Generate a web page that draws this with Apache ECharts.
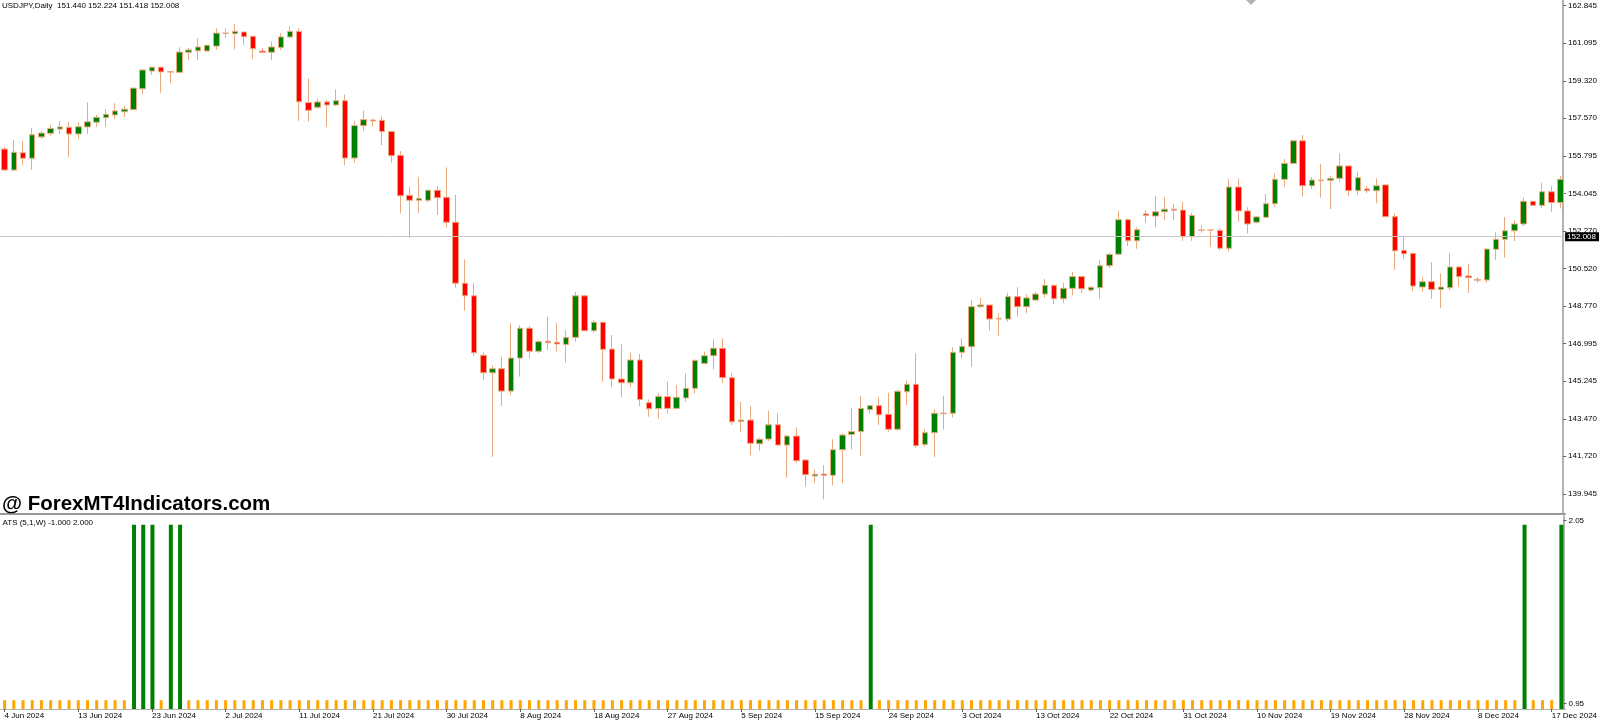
<!DOCTYPE html>
<html lang="en">
<head>
<meta charset="UTF-8">
<title>USDJPY Daily + ATS</title>
<script src="https://cdn.jsdelivr.net/npm/echarts@6.0.0/dist/echarts.min.js"></script>
<style>
  html, body { margin: 0; padding: 0; background: #fff; }
  #main { width: 1600px; height: 720px; }
</style>
</head>
<body>
<div id="main"></div>
<script type="text/javascript">
// USDJPY daily bars, 4 Jun 2024 .. 18 Dec 2024 (Sun-Fri sessions)
var opens = [
  156.12,155.14,155.95,155.69,156.69,156.86,157.06,157.14,156.83,157.16,
  157.38,157.59,157.72,157.87,157.97,158.95,159.78,159.96,159.75,159.72,
  160.66,160.73,160.72,160.95,161.55,161.53,161.61,161.41,160.72,160.66,
  160.88,161.38,161.64,158.30,158.08,158.33,158.19,158.39,155.70,157.22,
  157.48,157.47,156.95,155.83,153.95,153.72,153.72,154.19,153.86,152.69,
  149.83,149.24,146.45,145.63,145.82,144.77,146.32,147.72,146.64,147.11,
  147.06,146.96,147.29,149.24,147.60,148.00,146.74,145.34,145.16,146.23,
  144.23,143.95,144.51,143.96,144.45,144.90,146.07,146.43,146.78,145.40,
  143.35,143.41,142.30,142.52,143.19,142.24,142.66,141.54,140.79,140.88,
  140.82,142.02,142.73,142.87,143.90,144.09,143.68,142.98,144.74,145.09,
  142.27,142.82,143.71,143.73,146.59,146.85,148.73,148.81,148.18,148.15,
  149.20,148.73,149.04,149.32,149.73,149.10,149.59,150.14,149.51,149.62,
  150.65,151.19,152.81,151.82,153.08,152.98,153.18,153.30,153.26,152.01,
  152.33,152.33,152.31,151.47,154.34,153.22,152.69,152.92,153.56,154.70,
  155.45,156.51,154.40,154.67,154.66,154.75,155.33,154.17,154.25,154.17,
  154.44,152.95,151.37,151.23,149.65,149.90,149.54,149.62,150.59,150.17,
  150.01,149.98,151.42,151.89,152.29,152.61,153.67,153.48,154.12,153.61
];
var closes = [
  155.14,155.97,155.69,156.79,156.87,157.09,157.16,156.83,157.17,157.40,
  157.61,157.75,157.91,157.99,158.98,159.83,159.96,159.74,159.73,160.67,
  160.77,160.91,160.99,161.56,161.56,161.64,161.39,160.83,160.66,160.91,
  161.38,161.64,158.34,157.94,158.33,158.19,158.39,155.70,157.22,157.50,
  157.44,156.94,155.81,153.93,153.72,153.81,154.19,153.84,152.69,149.83,
  149.24,146.57,145.63,145.82,144.77,146.32,147.72,146.64,147.09,147.04,
  146.98,147.29,149.24,147.60,148.00,146.73,145.34,145.16,146.23,144.38,
  143.94,144.52,143.96,144.48,144.90,146.21,146.43,146.78,145.40,143.33,
  143.41,142.32,142.51,143.19,142.24,142.66,141.50,140.85,140.87,140.82,
  142.02,142.71,142.87,143.96,144.09,143.66,142.98,144.76,145.09,142.21,
  142.82,143.73,143.74,146.59,146.87,148.73,148.81,148.15,148.15,149.20,
  148.73,149.14,149.32,149.73,149.10,149.59,150.14,149.57,149.64,150.65,
  151.18,152.81,151.82,152.34,153.00,153.18,153.30,153.25,152.01,153.01,
  152.31,152.32,151.47,154.34,153.22,152.61,152.94,153.56,154.70,155.45,
  156.51,154.40,154.67,154.64,154.75,155.33,154.17,154.78,154.17,154.40,
  152.95,151.35,151.21,149.70,149.90,149.54,149.65,150.59,150.14,150.09,
  149.97,151.43,151.89,152.29,152.61,153.67,153.48,154.12,153.61,154.70
];
var lows = [
  155.09,155.11,155.37,155.14,156.59,156.75,156.81,155.73,156.59,156.83,
  157.16,157.17,157.53,157.63,157.97,158.69,159.60,158.76,159.21,159.70,
  160.30,160.30,160.72,160.77,161.32,160.80,160.99,160.36,160.61,160.30,
  160.77,161.32,157.45,157.40,158.01,157.17,158.14,155.37,155.48,156.98,
  157.17,156.31,155.48,153.11,151.96,153.11,153.61,153.03,152.44,149.62,
  148.54,146.42,145.29,141.69,144.07,144.59,145.45,146.31,146.57,146.70,
  146.62,146.10,147.09,147.60,147.51,145.21,144.95,144.48,144.95,144.07,
  143.57,143.48,143.73,143.92,144.27,144.67,146.04,145.79,145.14,143.18,
  142.87,141.77,141.97,142.43,142.21,140.71,141.41,140.29,140.45,139.70,
  140.35,140.45,142.04,141.74,143.73,143.17,142.87,142.91,144.12,142.09,
  142.16,141.67,142.98,143.54,146.31,145.91,148.65,147.60,147.37,148.02,
  148.26,148.42,148.99,149.15,148.85,148.89,149.26,149.37,149.42,149.10,
  150.53,151.15,151.57,151.45,152.67,152.45,152.79,152.79,151.82,151.82,
  152.20,151.54,151.35,151.31,152.71,152.17,152.64,152.90,153.42,154.36,
  155.45,153.89,154.25,153.84,153.31,154.59,153.92,153.97,154.05,153.58,
  152.95,150.45,150.98,149.48,149.43,149.09,148.67,149.51,149.67,149.37,
  149.85,149.85,150.92,151.03,151.81,152.51,153.46,153.34,153.18,153.34
];
var highs = [
  156.22,156.55,156.50,157.12,156.97,157.25,157.44,157.40,157.38,158.31,
  157.72,158.00,158.27,158.14,158.98,159.88,159.98,159.98,159.77,160.89,
  160.88,161.32,160.99,161.78,161.78,161.99,161.61,161.41,160.85,161.16,
  161.55,161.89,161.80,159.44,158.47,158.42,158.92,158.67,157.44,157.92,
  157.55,157.64,156.95,156.03,154.36,154.80,154.23,154.39,155.26,153.97,
  150.95,149.83,146.59,145.96,146.38,147.95,147.86,147.82,147.17,148.26,
  147.98,147.64,149.42,149.29,148.10,148.00,147.40,146.96,146.57,146.51,
  144.38,144.67,145.21,145.06,145.60,146.26,146.62,147.20,147.25,145.60,
  144.27,144.07,142.58,143.84,143.74,142.71,143.07,141.57,141.07,141.30,
  142.51,142.79,143.96,144.54,144.12,144.48,144.69,144.85,145.26,146.54,
  142.99,143.93,144.55,146.82,147.25,149.04,149.14,148.81,148.42,149.38,
  149.64,149.31,149.42,150.03,149.78,149.85,150.36,150.17,149.67,150.92,
  151.26,153.23,152.86,152.45,153.26,153.92,153.87,153.54,153.65,153.12,
  152.55,152.33,152.41,154.73,154.75,153.39,152.97,154.01,154.98,155.66,
  156.51,156.78,154.80,155.42,154.86,155.92,155.37,155.06,154.39,154.75,
  154.47,153.08,152.01,151.23,150.11,150.82,150.29,151.26,150.64,150.75,
  150.11,151.50,152.22,152.94,152.79,153.84,153.70,154.54,154.39,154.86
];
// ATS (5,1,W) histogram: 2 = green signal, 1 = orange
var atsValues = [
  1,1,1,1,1,1,1,1,1,1,
  1,1,1,1,2,2,2,1,2,2,
  1,1,1,1,1,1,1,1,1,1,
  1,1,1,1,1,1,1,1,1,1,
  1,1,1,1,1,1,1,1,1,1,
  1,1,1,1,1,1,1,1,1,1,
  1,1,1,1,1,1,1,1,1,1,
  1,1,1,1,1,1,1,1,1,1,
  1,1,1,1,1,1,1,1,1,1,
  1,1,1,1,2,1,1,1,1,1,
  1,1,1,1,1,1,1,1,1,1,
  1,1,1,1,1,1,1,1,1,1,
  1,1,1,1,1,1,1,1,1,1,
  1,1,1,1,1,1,1,1,1,1,
  1,1,1,1,1,1,1,1,1,1,
  1,1,1,1,1,1,1,1,1,1,
  1,1,1,1,1,2,1,1,1,2
];
var priceTicks = [162.845, 161.095, 159.320, 157.570, 155.795, 154.045, 152.270,
                  150.520, 148.770, 146.995, 145.245, 143.470, 141.720, 139.945];
var atsTickLabels = ['0.95', '2.05'];
var xTickLabels = ['4 Jun 2024', '13 Jun 2024', '23 Jun 2024', '2 Jul 2024', '11 Jul 2024',
  '21 Jul 2024', '30 Jul 2024', '8 Aug 2024', '18 Aug 2024', '27 Aug 2024', '5 Sep 2024',
  '15 Sep 2024', '24 Sep 2024', '3 Oct 2024', '13 Oct 2024', '22 Oct 2024', '31 Oct 2024',
  '10 Nov 2024', '19 Nov 2024', '28 Nov 2024', '8 Dec 2024', '17 Dec 2024'];
var lastPrice = 152.008;

// category dates (broker has Sunday sessions, no Saturdays)
var months = ['Jan','Feb','Mar','Apr','May','Jun','Jul','Aug','Sep','Oct','Nov','Dec'];
var dates = [];
var d = new Date(Date.UTC(2024, 5, 4));
while (dates.length < opens.length) {
    if (d.getUTCDay() !== 6) {
        dates.push(d.getUTCDate() + ' ' + months[d.getUTCMonth()] + ' ' + d.getUTCFullYear());
    }
    d.setUTCDate(d.getUTCDate() + 1);
}

var candles = opens.map(function (o, i) { return [o, closes[i], lows[i], highs[i]]; });
var atsGreen = atsValues.map(function (v) { return v === 2 ? v : '-'; });
var atsOrange = atsValues.map(function (v) { return v === 1 ? v : '-'; });

var FONT = 'Liberation Sans';
var axisGray = '#9a9a9a';
var gridLeft = -4.87, gridWidth = 1571.65;

var myChart = echarts.init(document.getElementById('main'));

var option = {
    animation: false,
    backgroundColor: '#ffffff',
    textStyle: { fontFamily: FONT },
    graphic: [
        { type: 'text', left: 2, top: 1.3, z: 10,
          style: { text: 'USDJPY,Daily  151.440 152.224 151.418 152.008', font: '8px "' + FONT + '"', fill: '#000' } },
        { type: 'text', left: 2, top: 493.5, z: 10,
          style: { text: '@ ForexMT4Indicators.com', font: 'bold 20.5px "' + FONT + '"', fill: '#000' } },
        { type: 'text', left: 2.5, top: 518.5, z: 10,
          style: { text: 'ATS (5,1,W) -1.000 2.000', font: '8px "' + FONT + '"', fill: '#000' } },
        // chart-shift marker at the top edge
        { type: 'polygon', z: 10, shape: { points: [[1246, 0], [1256, 0], [1251, 5]] },
          style: { fill: '#b4b4b4' } }
    ],
    grid: [
        { left: gridLeft, top: 0, width: gridWidth, height: 514 },
        { left: gridLeft, top: 516, width: gridWidth, height: 193 }
    ],
    xAxis: [
        {
            type: 'category', gridIndex: 0, data: dates, boundaryGap: true,
            axisLine: { show: true, lineStyle: { color: axisGray, width: 2 } },
            axisTick: { show: false }, axisLabel: { show: false }, splitLine: { show: false }
        },
        {
            type: 'category', gridIndex: 1, data: dates, boundaryGap: true,
            axisLine: { show: true, lineStyle: { color: '#b0b0b0', width: 1 } },
            axisTick: { show: true, interval: 7, alignWithLabel: true, length: 3, lineStyle: { color: '#606060' } },
            axisLabel: {
                show: true, interval: 7, align: 'left', margin: 3,
                fontSize: 8, color: '#000', fontFamily: FONT,
                formatter: function (v, i) { return xTickLabels[Math.round(i / 8)] || ''; }
            },
            splitLine: { show: false }
        }
    ],
    yAxis: [
        {
            type: 'value', gridIndex: 0, position: 'right', offset: -2,
            min: 139.007, max: 163.112, scale: true,
            axisLine: { show: true, lineStyle: { color: axisGray, width: 1.5 } },
            axisTick: { show: true, customValues: priceTicks, length: 3, lineStyle: { color: '#606060' } },
            axisLabel: {
                show: true, customValues: priceTicks, margin: 5,
                fontSize: 8, color: '#000', fontFamily: FONT,
                formatter: function (v) { return v.toFixed(3); }
            },
            splitLine: { show: false }
        },
        {
            type: 'value', gridIndex: 1, position: 'right', offset: -2,
            min: 0.95, max: 2.05,
            axisLine: { show: true, lineStyle: { color: axisGray, width: 1.5 } },
            axisTick: { show: true, customValues: [0.982, 2.023], length: 3, lineStyle: { color: '#606060' } },
            axisLabel: {
                show: true, customValues: [0.982, 2.023], margin: 5,
                fontSize: 8, color: '#000', fontFamily: FONT,
                formatter: function (v) { return v > 1.5 ? atsTickLabels[1] : atsTickLabels[0]; }
            },
            splitLine: { show: false }
        }
    ],
    series: [
        {
            name: 'USDJPY',
            type: 'candlestick',
            xAxisIndex: 0, yAxisIndex: 0,
            data: candles,
            barWidth: 6,
            itemStyle: {
                color: '#008000',
                color0: '#ff0000',
                borderColor: '#eaaa80',
                borderColor0: '#eaaa80',
                borderWidth: 1
            },
            markLine: {
                silent: true,
                symbol: ['none', 'none'],
                data: [{ yAxis: lastPrice }],
                lineStyle: { color: '#c8c8c8', type: 'solid', width: 1 },
                label: {
                    show: true, position: 'end', distance: 0,
                    formatter: function () { return lastPrice.toFixed(3); },
                    color: '#fff', backgroundColor: '#000',
                    fontSize: 8, fontFamily: FONT, padding: [0, 3, 0, 2], lineHeight: 9
                }
            }
        },
        {
            name: 'ATS up',
            type: 'bar',
            xAxisIndex: 1, yAxisIndex: 1,
            data: atsGreen,
            barWidth: 4,
            barGap: '-100%',
            itemStyle: { color: '#008000' }
        },
        {
            name: 'ATS flat',
            type: 'bar',
            xAxisIndex: 1, yAxisIndex: 1,
            data: atsOrange,
            barWidth: 3,
            barGap: '-100%',
            itemStyle: { color: '#ffa500' }
        }
    ]
};

myChart.setOption(option);
</script>
</body>
</html>
